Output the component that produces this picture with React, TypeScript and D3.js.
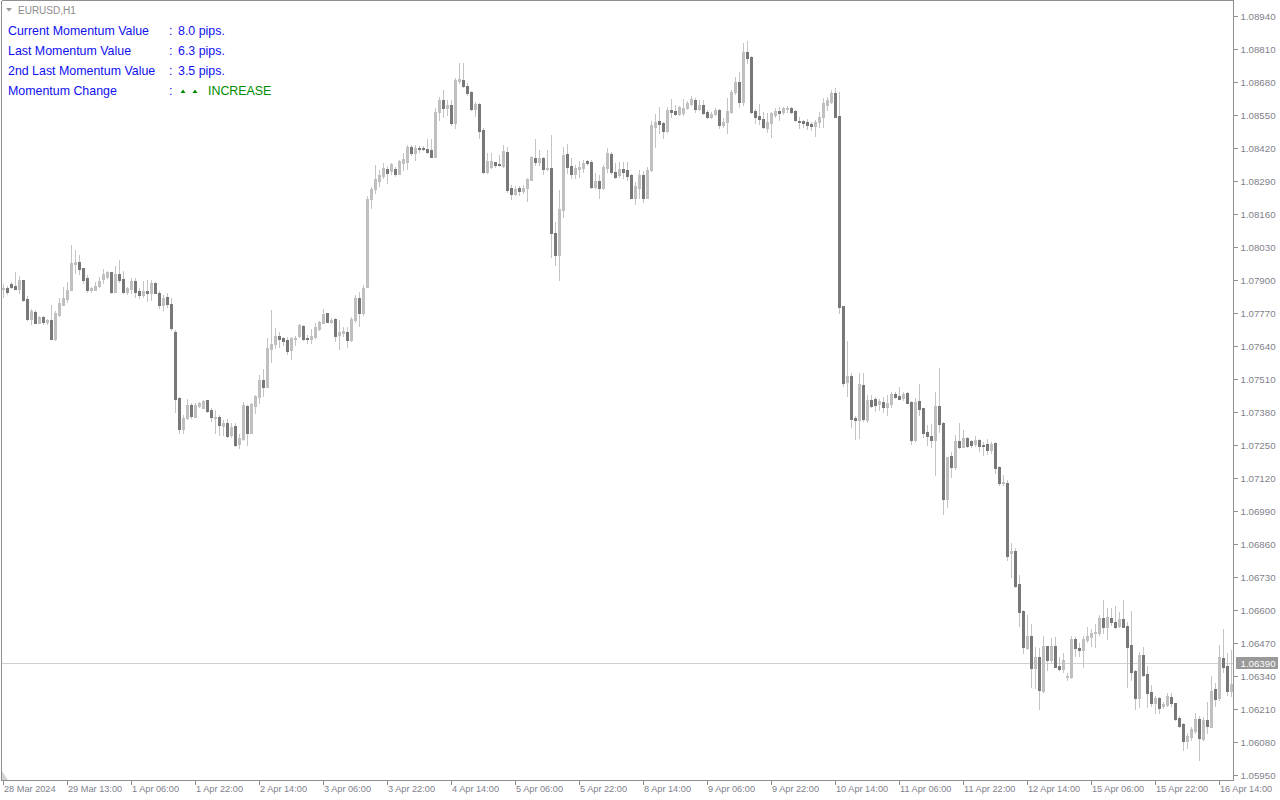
import React from "react";
import * as d3 from "d3";

// ---- Data (EURUSD H1) ----
const opens = [
1.07863,1.07870,1.07885,1.07876,1.07864,1.07900,1.07825,1.07746,1.07775,1.07732,
1.07754,1.07735,1.07742,1.07667,1.07762,1.07803,1.07824,1.07861,1.07964,1.07971,
1.07947,1.07908,1.07861,1.07861,1.07876,1.07904,1.07913,1.07931,1.07853,1.07925,
1.07904,1.07853,1.07866,1.07897,1.07858,1.07841,1.07858,1.07850,1.07889,1.07850,
1.07800,1.07833,1.07805,1.07694,1.07434,1.07313,1.07355,1.07407,1.07361,1.07404,
1.07397,1.07427,1.07388,1.07357,1.07361,1.07325,1.07338,1.07289,1.07325,1.07254,
1.07272,1.07404,1.07298,1.07404,1.07440,1.07506,1.07480,1.07628,1.07648,1.07679,
1.07672,1.07664,1.07624,1.07669,1.07679,1.07719,1.07672,1.07667,1.07677,1.07706,
1.07732,1.07769,1.07736,1.07746,1.07683,1.07692,1.07696,1.07664,1.07742,1.07828,
1.07769,1.07874,1.08219,1.08257,1.08291,1.08310,1.08337,1.08331,1.08337,1.08318,
1.08362,1.08366,1.08424,1.08399,1.08421,1.08421,1.08417,1.08412,1.08386,1.08561,
1.08609,1.08576,1.08589,1.08520,1.08685,1.08688,1.08664,1.08642,1.08574,1.08593,
1.08491,1.08327,1.08346,1.08364,1.08357,1.08349,1.08405,1.08264,1.08239,1.08264,
1.08252,1.08261,1.08294,1.08382,1.08364,1.08382,1.08336,1.08340,1.08084,1.07999,
1.08176,1.08396,1.08349,1.08318,1.08337,1.08342,1.08369,1.08366,1.08268,1.08290,
1.08261,1.08342,1.08395,1.08324,1.08314,1.08337,1.08333,1.08314,1.08222,1.08261,
1.08314,1.08224,1.08333,1.08504,1.08526,1.08517,1.08488,1.08570,1.08566,1.08554,
1.08557,1.08579,1.08593,1.08609,1.08574,1.08589,1.08563,1.08543,1.08554,1.08570,
1.08511,1.08521,1.08561,1.08639,1.08681,1.08602,1.08799,1.08780,1.08566,1.08547,
1.08534,1.08500,1.08517,1.08550,1.08566,1.08561,1.08574,1.08579,1.08566,1.08526,
1.08526,1.08521,1.08516,1.08508,1.08521,1.08543,1.08589,1.08602,1.08635,1.08546,
1.07797,1.07498,1.07522,1.07357,1.07348,1.07486,1.07348,1.07427,1.07430,1.07411,
1.07420,1.07401,1.07411,1.07451,1.07443,1.07434,1.07456,1.07420,1.07270,1.07423,
1.07394,1.07302,1.07285,1.07270,1.07404,1.07338,1.07036,1.07207,1.07162,1.07267,
1.07243,1.07276,1.07266,1.07253,1.07270,1.07250,1.07254,1.07230,1.07257,1.07162,
1.07099,1.07102,1.06823,1.06832,1.06701,1.06596,1.06451,1.06497,1.06370,1.06414,
1.06281,1.06458,1.06403,1.06458,1.06379,1.06366,1.06335,1.06335,1.06485,1.06449,
1.06442,1.06482,1.06495,1.06508,1.06508,1.06567,1.06532,1.06567,1.06554,1.06537,
1.06563,1.06537,1.06462,1.06361,1.06255,1.06423,1.06348,1.06278,1.06235,1.06255,
1.06222,1.06226,1.06258,1.06232,1.06173,1.06151,1.06085,1.06101,1.06125,1.06169,
1.06091,1.06167,1.06140,1.06288,1.06252,1.06410,1.06379,1.06282
];

const highs = [
1.07884,1.07876,1.07893,1.07931,1.07916,1.07900,1.07837,1.07784,1.07782,1.07758,
1.07758,1.07746,1.07801,1.07779,1.07828,1.07874,1.07893,1.08038,1.08018,1.07999,
1.07949,1.07920,1.07874,1.07893,1.07911,1.07942,1.07937,1.07933,1.07955,1.07979,
1.07935,1.07874,1.07907,1.07907,1.07867,1.07897,1.07900,1.07900,1.07893,1.07857,
1.07841,1.07850,1.07828,1.07703,1.07440,1.07368,1.07430,1.07417,1.07417,1.07420,
1.07427,1.07429,1.07394,1.07388,1.07368,1.07348,1.07351,1.07335,1.07338,1.07293,
1.07420,1.07407,1.07417,1.07447,1.07526,1.07548,1.07670,1.07782,1.07710,1.07696,
1.07677,1.07677,1.07677,1.07679,1.07725,1.07723,1.07683,1.07706,1.07729,1.07740,
1.07784,1.07771,1.07749,1.07749,1.07742,1.07716,1.07716,1.07755,1.07841,1.07854,
1.07880,1.08232,1.08268,1.08353,1.08333,1.08360,1.08349,1.08360,1.08346,1.08373,
1.08399,1.08432,1.08432,1.08432,1.08428,1.08428,1.08457,1.08457,1.08576,1.08622,
1.08649,1.08609,1.08609,1.08695,1.08754,1.08754,1.08675,1.08644,1.08602,1.08596,
1.08498,1.08399,1.08399,1.08366,1.08392,1.08432,1.08425,1.08274,1.08270,1.08270,
1.08274,1.08303,1.08388,1.08454,1.08412,1.08386,1.08412,1.08471,1.08130,1.08255,
1.08425,1.08436,1.08379,1.08353,1.08369,1.08373,1.08373,1.08373,1.08320,1.08314,
1.08353,1.08421,1.08405,1.08360,1.08366,1.08366,1.08366,1.08316,1.08287,1.08333,
1.08329,1.08346,1.08526,1.08554,1.08583,1.08521,1.08583,1.08613,1.08589,1.08587,
1.08613,1.08605,1.08626,1.08618,1.08609,1.08609,1.08570,1.08563,1.08579,1.08574,
1.08537,1.08618,1.08649,1.08701,1.08720,1.08832,1.08841,1.08782,1.08574,1.08593,
1.08563,1.08557,1.08563,1.08576,1.08583,1.08583,1.08587,1.08583,1.08568,1.08543,
1.08530,1.08534,1.08521,1.08530,1.08563,1.08616,1.08622,1.08649,1.08655,1.08642,
1.07799,1.07660,1.07535,1.07364,1.07532,1.07532,1.07447,1.07447,1.07440,1.07430,
1.07438,1.07447,1.07460,1.07460,1.07477,1.07460,1.07460,1.07422,1.07434,1.07490,
1.07396,1.07329,1.07333,1.07460,1.07552,1.07340,1.07204,1.07224,1.07289,1.07335,
1.07309,1.07280,1.07270,1.07285,1.07272,1.07263,1.07272,1.07263,1.07263,1.07167,
1.07132,1.07112,1.06863,1.06843,1.06738,1.06600,1.06580,1.06545,1.06453,1.06449,
1.06497,1.06460,1.06489,1.06492,1.06416,1.06432,1.06351,1.06497,1.06492,1.06469,
1.06497,1.06534,1.06524,1.06545,1.06580,1.06639,1.06607,1.06607,1.06616,1.06593,
1.06639,1.06554,1.06597,1.06363,1.06436,1.06455,1.06379,1.06305,1.06261,1.06258,
1.06239,1.06272,1.06272,1.06235,1.06182,1.06156,1.06114,1.06138,1.06193,1.06182,
1.06180,1.06239,1.06340,1.06311,1.06462,1.06524,1.06429,1.06442
];

const lows = [
1.07834,1.07845,1.07867,1.07863,1.07848,1.07817,1.07744,1.07727,1.07729,1.07729,
1.07727,1.07727,1.07666,1.07665,1.07760,1.07801,1.07815,1.07859,1.07926,1.07924,
1.07887,1.07854,1.07854,1.07859,1.07874,1.07889,1.07909,1.07848,1.07851,1.07893,
1.07848,1.07845,1.07848,1.07834,1.07828,1.07834,1.07817,1.07821,1.07848,1.07788,
1.07782,1.07792,1.07703,1.07381,1.07298,1.07298,1.07351,1.07355,1.07359,1.07398,
1.07394,1.07381,1.07346,1.07296,1.07289,1.07289,1.07283,1.07283,1.07246,1.07237,
1.07270,1.07250,1.07296,1.07375,1.07417,1.07443,1.07478,1.07578,1.07631,1.07637,
1.07644,1.07609,1.07589,1.07644,1.07677,1.07665,1.07651,1.07651,1.07670,1.07703,
1.07729,1.07734,1.07732,1.07661,1.07628,1.07679,1.07637,1.07661,1.07736,1.07719,
1.07762,1.07872,1.08182,1.08244,1.08270,1.08301,1.08281,1.08318,1.08310,1.08316,
1.08333,1.08336,1.08392,1.08373,1.08405,1.08412,1.08399,1.08383,1.08383,1.08530,
1.08543,1.08550,1.08511,1.08498,1.08675,1.08662,1.08629,1.08570,1.08546,1.08458,
1.08320,1.08323,1.08340,1.08344,1.08349,1.08346,1.08248,1.08218,1.08235,1.08235,
1.08244,1.08212,1.08292,1.08353,1.08353,1.08318,1.08333,1.07992,1.07959,1.07900,
1.08149,1.08320,1.08301,1.08301,1.08307,1.08327,1.08353,1.08261,1.08261,1.08222,
1.08258,1.08327,1.08316,1.08301,1.08307,1.08301,1.08292,1.08222,1.08198,1.08222,
1.08208,1.08222,1.08331,1.08425,1.08478,1.08458,1.08484,1.08543,1.08550,1.08549,
1.08550,1.08574,1.08589,1.08563,1.08570,1.08553,1.08537,1.08539,1.08550,1.08500,
1.08504,1.08478,1.08557,1.08631,1.08583,1.08589,1.08754,1.08557,1.08517,1.08513,
1.08498,1.08484,1.08465,1.08543,1.08530,1.08554,1.08563,1.08557,1.08528,1.08500,
1.08504,1.08495,1.08491,1.08468,1.08504,1.08504,1.08570,1.08596,1.08541,1.07771,
1.07482,1.07443,1.07322,1.07272,1.07276,1.07346,1.07342,1.07401,1.07385,1.07388,
1.07381,1.07368,1.07401,1.07434,1.07430,1.07427,1.07414,1.07254,1.07266,1.07368,
1.07280,1.07250,1.07243,1.07132,1.07302,1.06978,1.07005,1.07123,1.07154,1.07237,
1.07241,1.07241,1.07243,1.07246,1.07228,1.07211,1.07214,1.07220,1.07141,1.07092,
1.07092,1.06797,1.06731,1.06692,1.06537,1.06429,1.06445,1.06298,1.06294,1.06209,
1.06276,1.06364,1.06396,1.06374,1.06364,1.06357,1.06324,1.06331,1.06419,1.06419,
1.06377,1.06475,1.06458,1.06455,1.06502,1.06508,1.06486,1.06541,1.06528,1.06532,
1.06532,1.06298,1.06324,1.06209,1.06217,1.06340,1.06217,1.06222,1.06193,1.06195,
1.06213,1.06222,1.06222,1.06167,1.06140,1.06049,1.06055,1.06088,1.06117,1.06009,
1.06088,1.06114,1.06138,1.06222,1.06246,1.06357,1.06265,1.06261
];

const closes = [
1.07870,1.07854,1.07874,1.07864,1.07900,1.07821,1.07746,1.07779,1.07732,1.07755,
1.07736,1.07742,1.07667,1.07771,1.07808,1.07829,1.07861,1.07968,1.07971,1.07945,
1.07900,1.07861,1.07868,1.07876,1.07897,1.07924,1.07930,1.07853,1.07924,1.07900,
1.07853,1.07868,1.07897,1.07854,1.07841,1.07857,1.07850,1.07889,1.07850,1.07800,
1.07829,1.07805,1.07710,1.07432,1.07313,1.07357,1.07407,1.07364,1.07407,1.07417,
1.07423,1.07385,1.07361,1.07361,1.07329,1.07338,1.07285,1.07322,1.07250,1.07276,
1.07407,1.07298,1.07411,1.07443,1.07506,1.07480,1.07631,1.07648,1.07679,1.07667,
1.07660,1.07620,1.07672,1.07673,1.07723,1.07667,1.07667,1.07679,1.07716,1.07736,
1.07765,1.07736,1.07742,1.07679,1.07696,1.07700,1.07664,1.07746,1.07828,1.07769,
1.07867,1.08219,1.08257,1.08297,1.08314,1.08342,1.08323,1.08356,1.08318,1.08369,
1.08376,1.08425,1.08399,1.08421,1.08415,1.08415,1.08405,1.08386,1.08563,1.08609,
1.08576,1.08589,1.08517,1.08688,1.08692,1.08665,1.08638,1.08574,1.08593,1.08488,
1.08327,1.08369,1.08369,1.08353,1.08353,1.08408,1.08255,1.08239,1.08259,1.08252,
1.08264,1.08297,1.08386,1.08364,1.08382,1.08336,1.08342,1.08084,1.07999,1.08180,
1.08392,1.08346,1.08318,1.08340,1.08346,1.08362,1.08362,1.08268,1.08290,1.08261,
1.08344,1.08401,1.08324,1.08307,1.08337,1.08327,1.08311,1.08224,1.08270,1.08314,
1.08224,1.08333,1.08511,1.08521,1.08515,1.08488,1.08570,1.08561,1.08554,1.08583,
1.08579,1.08598,1.08613,1.08574,1.08589,1.08559,1.08543,1.08554,1.08570,1.08511,
1.08521,1.08566,1.08642,1.08681,1.08602,1.08799,1.08773,1.08563,1.08543,1.08534,
1.08502,1.08521,1.08557,1.08566,1.08557,1.08576,1.08579,1.08561,1.08530,1.08521,
1.08517,1.08511,1.08508,1.08521,1.08543,1.08596,1.08609,1.08635,1.08543,1.07795,
1.07495,1.07522,1.07352,1.07348,1.07490,1.07352,1.07427,1.07404,1.07407,1.07423,
1.07401,1.07417,1.07451,1.07440,1.07431,1.07451,1.07417,1.07270,1.07420,1.07392,
1.07298,1.07285,1.07270,1.07404,1.07333,1.07036,1.07202,1.07165,1.07267,1.07243,
1.07276,1.07247,1.07250,1.07270,1.07247,1.07246,1.07230,1.07254,1.07158,1.07102,
1.07105,1.06813,1.06832,1.06696,1.06593,1.06455,1.06497,1.06370,1.06414,1.06285,
1.06458,1.06403,1.06458,1.06377,1.06366,1.06403,1.06340,1.06485,1.06449,1.06442,
1.06485,1.06497,1.06511,1.06515,1.06567,1.06532,1.06571,1.06551,1.06534,1.06563,
1.06534,1.06455,1.06357,1.06255,1.06423,1.06344,1.06274,1.06235,1.06255,1.06213,
1.06230,1.06261,1.06232,1.06171,1.06143,1.06085,1.06104,1.06130,1.06171,1.06095,
1.06167,1.06143,1.06281,1.06248,1.06414,1.06377,1.06282,1.06309
];

const priceTicks = [
1.0894,1.0881,1.0868,1.0855,1.0842,1.0829,1.0816,1.0803,1.0790,1.0777,1.0764,1.0751,
1.0738,1.0725,1.0712,1.0699,1.0686,1.0673,1.0660,1.0647,1.0634,1.0621,1.0608,1.0595
];

const timeLabels = [
"28 Mar 2024","29 Mar 13:00","1 Apr 06:00","1 Apr 22:00","2 Apr 14:00","3 Apr 06:00",
"3 Apr 22:00","4 Apr 14:00","5 Apr 06:00","5 Apr 22:00","8 Apr 14:00","9 Apr 06:00",
"9 Apr 22:00","10 Apr 14:00","11 Apr 06:00","11 Apr 22:00","12 Apr 14:00","15 Apr 06:00",
"15 Apr 22:00","16 Apr 14:00"
];
const timeLabelBars = [0,16,32,48,64,80,96,112,128,144,160,176,192,208,224,240,256,272,288,304];

const bidPrice = 1.0639;
const symbolTitle = "EURUSD,H1";
const infoLabels = ["Current Momentum Value","Last Momentum Value","2nd Last Momentum Value","Momentum Change"];
const infoValues = ["8.0 pips.","6.3 pips.","3.5 pips."];
const changeText = "INCREASE";

const FONT = "'Liberation Sans', Arial, sans-serif";

export default function App() {
  const W = 1280, H = 800;
  const plotLeft = 1.5, plotRight = 1233.5, plotTop = 0.5, plotBottom = 780.5;
  const n = closes.length;
  const x = d3.scaleLinear().domain([0, n - 1]).range([3.3, 3.3 + 4 * (n - 1)]);
  const y = d3.scaleLinear().domain([1.0595, 1.0894]).range([775, 16]);

  const bull = "#c0c0c0";
  const bear = "#787878";
  const wick = "#c4c4c4";
  const axisCol = "#8f8f8f";
  const textCol = "#7f7f8c";

  const bidY = Math.round(y(bidPrice)) + 0.5;

  return (
    <div style={{ position: "fixed", left: 0, top: 0, width: W, height: H, background: "#fff" }}>
      <svg width={W} height={H} style={{ display: "block" }} fontFamily={FONT}>
        <rect x={0} y={0} width={W} height={H} fill="#fff" />
        {/* bid line */}
        <line x1={plotLeft} x2={plotRight} y1={bidY} y2={bidY} stroke="#cfcfcf" strokeWidth={1} shapeRendering="crispEdges" />
        {/* wicks */}
        <g shapeRendering="crispEdges">
          {closes.map((c, i) => {
            const cx = Math.round(x(i)) + 0.5;
            return (
              <line key={"w" + i} x1={cx} x2={cx} y1={Math.round(y(highs[i]))} y2={Math.round(y(lows[i])) + 1} stroke={wick} strokeWidth={1} />
            );
          })}
        </g>
        {/* bodies */}
        <g shapeRendering="crispEdges">
          {closes.map((c, i) => {
            const o = opens[i];
            const up = c > o;
            const top = Math.round(y(Math.max(o, c)));
            const bot = Math.round(y(Math.min(o, c)));
            const cx = Math.round(x(i));
            return (
              <rect key={"b" + i} x={cx - 1} y={top} width={3} height={Math.max(1, bot - top + 1)} fill={up ? bull : bear} />
            );
          })}
        </g>
        {/* frame */}
        <g shapeRendering="crispEdges" stroke={axisCol} fill="none">
          <line x1={plotLeft} x2={plotLeft} y1={plotTop} y2={plotBottom} />
          <line x1={plotLeft} x2={plotRight} y1={plotTop} y2={plotTop} />
          <line x1={plotRight} x2={plotRight} y1={plotTop} y2={plotBottom} />
          <line x1={plotLeft} x2={plotRight} y1={plotBottom} y2={plotBottom} />
        </g>
        <path d={`M2,771 L2,780 L8,780 Z`} fill="#d4d4d4" />
        {/* price axis */}
        {priceTicks.map((p) => {
          const ty = Math.round(y(p)) + 0.5;
          return (
            <g key={"p" + p}>
              <line x1={plotRight} x2={plotRight + 4} y1={ty} y2={ty} stroke={axisCol} shapeRendering="crispEdges" />
              <text x={1240.5} y={ty + 3.5} fontSize={9.7} fill={textCol}>{p.toFixed(5)}</text>
            </g>
          );
        })}
        {/* bid label */}
        <rect x={1236} y={bidY - 6.5} width={42} height={12} fill="#999999" />
        <text x={1240.5} y={bidY + 3.5} fontSize={9.7} fill="#ffffff">{bidPrice.toFixed(5)}</text>
        {/* time axis */}
        {timeLabels.map((t, k) => {
          const tx = Math.round(x(timeLabelBars[k])) + 0.5;
          return (
            <g key={"t" + k}>
              <line x1={tx} x2={tx} y1={plotBottom} y2={plotBottom + 4} stroke={axisCol} shapeRendering="crispEdges" />
              <text x={tx + 0.5} y={792} fontSize={9.2} fill={textCol}>{t}</text>
            </g>
          );
        })}
        {/* title */}
        <path d="M6,8 L12,8 L9,11.5 Z" fill="#9a9a9a" />
        <text x={18} y={13.5} fontSize={10} fill="#8c8c8c">{symbolTitle}</text>
        {/* info panel */}
        {infoLabels.map((lab, k) => {
          const ry = 30 + k * 20;
          return (
            <g key={"i" + k}>
              <text x={8} y={ry + 4.5} fontSize={12.4} fill="#1010f0">{lab}</text>
              <text x={169} y={ry + 4.5} fontSize={12.4} fill="#1010f0">:</text>
              {k < 3 ? (
                <text x={178} y={ry + 4.5} fontSize={12.4} fill="#1010f0">{infoValues[k]}</text>
              ) : (
                <g>
                  <path d={`M180.5,${ry + 3} L185.5,${ry + 3} L183,${ry - 0.5} Z`} fill="#008c00" />
                  <path d={`M192.5,${ry + 3} L197.5,${ry + 3} L195,${ry - 0.5} Z`} fill="#008c00" />
                  <text x={208} y={ry + 4.5} fontSize={12.4} fill="#008c00">{changeText}</text>
                </g>
              )}
            </g>
          );
        })}
      </svg>
    </div>
  );
}
